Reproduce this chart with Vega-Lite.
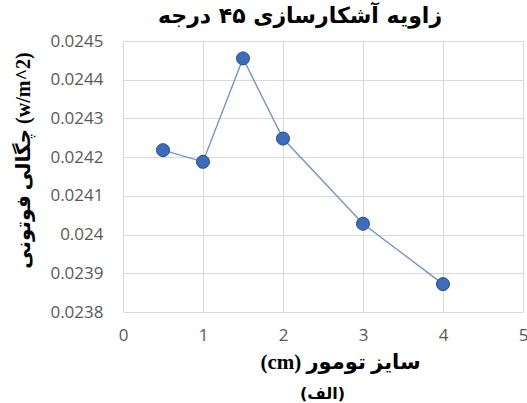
{
  "$schema": "https://vega.github.io/schema/vega-lite/v6.json",
  "autosize": "none",
  "width": 400,
  "height": 271,
  "padding": {"left": 123, "top": 41, "right": 4, "bottom": 91},
  "background": "white",
  "config": {"view": {"stroke": null}},
  "title": {
    "text": "زاویه آشکارسازی ۴۵ درجه",
    "anchor": "middle",
    "frame": "group",
    "dx": -23,
    "offset": 4,
    "font": "DejaVu Sans",
    "fontSize": 22,
    "fontWeight": "bold",
    "color": "#000000"
  },
  "data": {
    "values": [
      {"size": 0.5, "density": 0.024218},
      {"size": 1, "density": 0.024188},
      {"size": 1.5, "density": 0.024455},
      {"size": 2, "density": 0.024248},
      {"size": 3, "density": 0.024028},
      {"size": 4, "density": 0.023872}
    ]
  },
  "encoding": {
    "x": {
      "field": "size",
      "type": "quantitative",
      "scale": {"domain": [0, 5], "nice": false, "zero": false}
    },
    "y": {
      "field": "density",
      "type": "quantitative",
      "scale": {"domain": [0.0238, 0.0245], "nice": false, "zero": false},
      "axis": {
        "values": [0.0238, 0.0239, 0.024, 0.0241, 0.0242, 0.0243, 0.0244, 0.0245],
        "format": "~g",
        "domain": false,
        "ticks": false,
        "labelPadding": 20,
        "labelFont": "Open Sans",
        "labelFontSize": 17,
        "labelColor": "#595959",
        "gridColor": "#D9D9D9",
        "gridWidth": 1,
        "title": "\u2066چگالی فوتونی (w/m^2)\u2069",
        "titleFont": "Liberation Serif, DejaVu Sans",
        "titleFontSize": 20,
        "titleFontWeight": "bold",
        "titleColor": "#000000",
        "titleAngle": -90,
        "titleAlign": "center",
        "titleBaseline": "middle",
        "titleX": -100,
        "titleY": 119
      }
    }
  },
  "layer": [
    {
      "mark": {"type": "line", "color": "#7190C4", "strokeWidth": 1.3},
      "encoding": {
        "x": {
          "field": "size",
          "type": "quantitative",
          "scale": {"domain": [0, 5], "nice": false, "zero": false},
          "axis": {
            "values": [0, 1, 2, 3, 4, 5],
            "domain": false,
            "ticks": false,
            "labelPadding": 15,
            "labelFont": "Open Sans",
            "labelFontSize": 17,
            "labelColor": "#595959",
            "labelFlush": false,
            "gridColor": "#D9D9D9",
            "gridWidth": 1,
            "title": "\u2066(cm) سایز تومور\u2069",
            "titleFont": "Liberation Serif, DejaVu Sans",
            "titleFontSize": 21,
            "titleFontWeight": "bold",
            "titleColor": "#000000",
            "titleX": 217,
            "titleY": 50,
            "titleBaseline": "middle"
          }
        }
      }
    },
    {
      "mark": {"type": "point", "shape": "circle", "filled": true, "size": 170, "color": "#3D6DB8", "stroke": "#274C8C", "strokeWidth": 1, "opacity": 1},
      "encoding": {
        "x": {
          "field": "size",
          "type": "quantitative",
          "scale": {"domain": [0, 5], "nice": false, "zero": false},
          "axis": {
            "orient": "bottom",
            "labels": false,
            "ticks": false,
            "domain": false,
            "grid": false,
            "title": "\u2066(الف)\u2069",
            "titleFont": "DejaVu Sans",
            "titleFontSize": 16,
            "titleFontWeight": "bold",
            "titleColor": "#000000",
            "titleX": 199,
            "titleY": 81,
            "titleBaseline": "middle"
          }
        }
      }
    }
  ],
  "resolve": {"axis": {"x": "independent"}}
}
